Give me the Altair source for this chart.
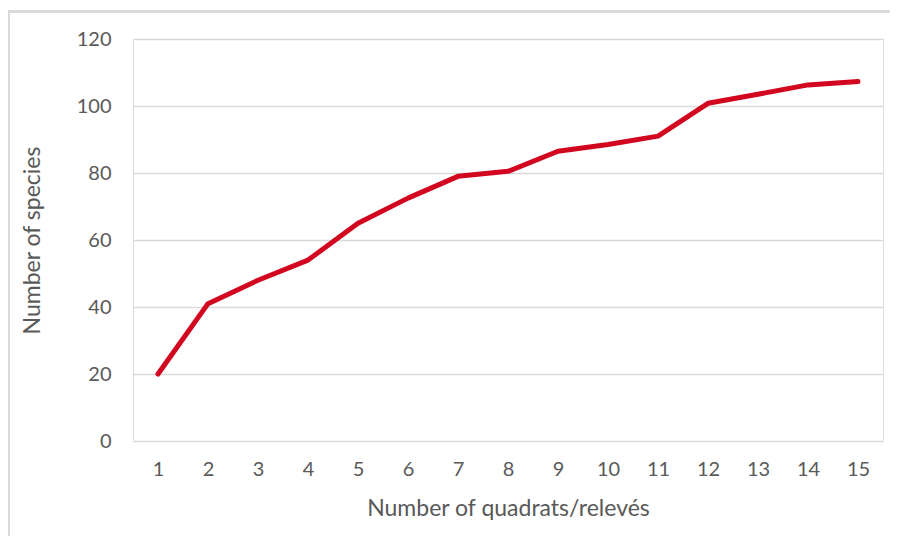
import altair as alt
import pandas as pd

quadrats = list(range(1, 16))
species = [20, 41, 48, 54, 65, 72.5, 79, 80.5, 86.5, 88.5, 91, 100.8, 103.5, 106.3, 107.3]

df = pd.DataFrame({"q": quadrats, "s": species})

FONT = "Lato"
GREY = "#595959"

line = alt.Chart(df).mark_line(color="#D2071F", strokeWidth=5, strokeCap="round", strokeJoin="round").encode(
    x=alt.X("q:O", title="Number of quadrats/relevés",
            scale=alt.Scale(type="point", padding=0.5),
            axis=alt.Axis(labelAngle=0, ticks=False, domain=False, grid=False,
                          labelPadding=18, labelFontSize=20, labelColor=GREY, labelFont=FONT,
                          titleFontSize=23, titleColor=GREY, titleFont=FONT, titleFontWeight="normal",
                          titleY=67, titleBaseline="middle")),
    y=alt.Y("s:Q", title="Number of species",
            scale=alt.Scale(domain=[0, 120], nice=False),
            axis=alt.Axis(values=[0, 20, 40, 60, 80, 100, 120], ticks=False, domain=False,
                          gridColor="#D9D9D9", gridWidth=1.5,
                          labelPadding=22, labelFontSize=20, labelColor=GREY, labelFont=FONT,
                          titleFontSize=23, titleColor=GREY, titleFont=FONT, titleFontWeight="normal",
                          titleX=-101, titleY=201, titleBaseline="middle", titleAngle=-90)),
)

frame = alt.Chart(df).mark_rect(fill=None, stroke="#D9D9D9", strokeWidth=1.5).encode(
    x=alt.value(-124.5), x2=alt.value(1000), y=alt.value(-27.5), y2=alt.value(700)
)

chart = alt.layer(frame, line).properties(
    width=750, height=402,
    autosize=alt.AutoSizeParams(type="none"),
    padding={"left": 125, "top": 31, "right": 7, "bottom": 95},
).configure_view(stroke=None).configure(background="white")

chart.save("out.html", embed_options={"renderer": "svg", "actions": False})
